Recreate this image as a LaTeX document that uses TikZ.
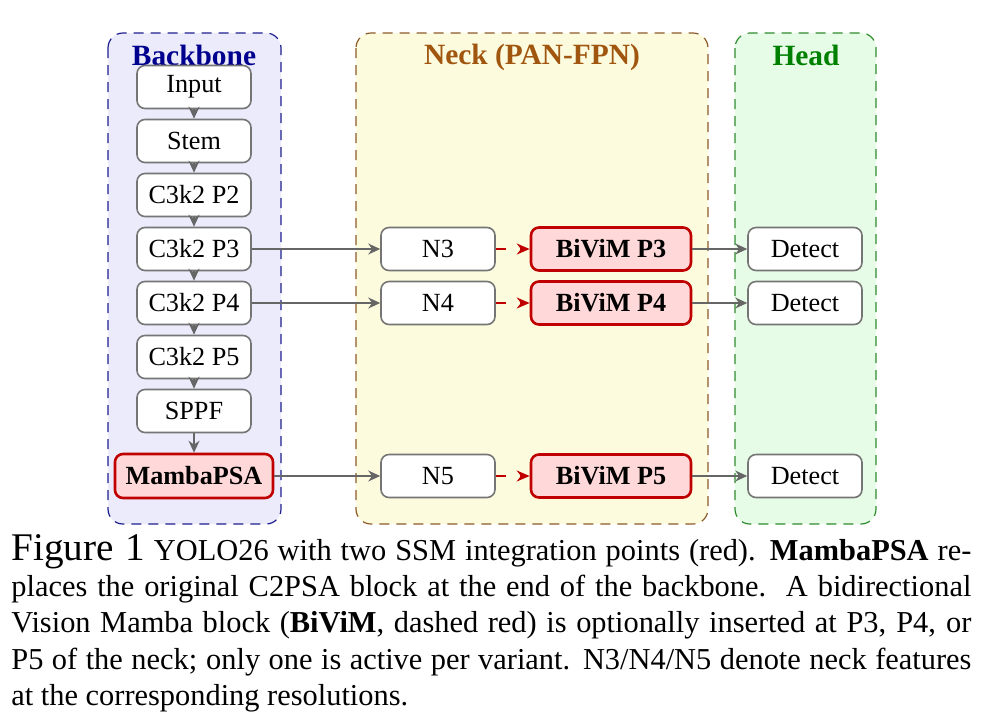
\documentclass[tikz,border=0pt]{standalone}
\usepackage{fontspec}
\setmainfont{Liberation Serif}
\usetikzlibrary{arrows.meta}
\definecolor{bbfill}{HTML}{EBEBFC}
\definecolor{bbdraw}{HTML}{1F1F8F}
\definecolor{bbtext}{HTML}{00008F}
\definecolor{nkfill}{HTML}{FCFBDE}
\definecolor{nkdraw}{HTML}{8C5A2A}
\definecolor{nktext}{HTML}{A0560F}
\definecolor{hdfill}{HTML}{E6FCE6}
\definecolor{hddraw}{HTML}{2E8B2E}
\definecolor{hdtext}{HTML}{008000}
\definecolor{ssmfill}{HTML}{FFD9D9}
\definecolor{ssmdraw}{HTML}{C00000}
\definecolor{gline}{HTML}{666666}
\begin{document}
\begin{tikzpicture}[x=0.5pt,y=-0.5pt,
 panel/.style={rounded corners=7.5pt, dash pattern=on 5pt off 3.5pt, line width=0.6pt},
 blk/.style={draw=gline!90, fill=white, rounded corners=4pt, line width=0.8pt, minimum width=57pt, minimum height=21.5pt, inner sep=0pt, font=\fontsize{13.1}{15}\selectfont},
 ssm/.style={blk, draw=ssmdraw, fill=ssmfill, line width=1.3pt, font=\fontsize{13.1}{15}\selectfont\bfseries},
 flow/.style={draw=gline, line width=0.75pt, -{Stealth[length=6pt,width=5.5pt]}},
 opt/.style={draw=ssmdraw, line width=0.9pt, dash pattern=on 5pt off 7pt, -{Stealth[length=6.5pt,width=5.5pt]}},
 title/.style={font=\fontsize{14.7}{16}\selectfont\bfseries, anchor=base, inner sep=0pt},
 capline/.style={anchor=base west, inner sep=0pt, font=\fontsize{15.2}{18}\selectfont}]
\useasboundingbox (0,0) rectangle (1000,725);
% panels
\draw[panel, fill=bbfill, draw=bbdraw] (108,33) rectangle (281,524);
\draw[panel, fill=nkfill, draw=nkdraw] (356,33) rectangle (708,524);
\draw[panel, fill=hdfill, draw=hddraw] (735,33) rectangle (876,524);
\node[title, text=bbtext] (tb) at (194,65) {Backbone};
\node[title, text=nktext] (tn) at (532,64) {Neck (PAN-FPN)};
\node[title, text=hdtext] (th) at (806,65) {Head};
% backbone
\node[blk] (in) at (194,87) {Input};
\node[blk] (stem) at (194,141) {Stem};
\node[blk] (p2) at (194,195) {C3k2 P2};
\node[blk] (p3) at (194,249) {C3k2 P3};
\node[blk] (p4) at (194,303) {C3k2 P4};
\node[blk] (p5) at (194,357) {C3k2 P5};
\node[blk] (sppf) at (194,411) {SPPF};
\node[ssm, minimum width=79pt, minimum height=22pt] (mpsa) at (194,476) {MambaPSA};
% neck
\node[blk] (n3) at (438,249) {N3};
\node[blk] (n4) at (438,303) {N4};
\node[blk] (n5) at (438,476) {N5};
\node[ssm, minimum width=80pt] (b3) at (611,249) {BiViM P3};
\node[ssm, minimum width=80pt] (b4) at (611,303) {BiViM P4};
\node[ssm, minimum width=80pt] (b5) at (611,476) {BiViM P5};
% head
\node[blk] (d3) at (805,249) {Detect};
\node[blk] (d4) at (805,303) {Detect};
\node[blk] (d5) at (805,476) {Detect};
% connectors
\draw[flow] (in) -- (stem);
\draw[flow] (stem) -- (p2);
\draw[flow] (p2) -- (p3);
\draw[flow] (p3) -- (p4);
\draw[flow] (p4) -- (p5);
\draw[flow] (p5) -- (sppf);
\draw[flow] (sppf) -- (mpsa);
\draw[flow] (p3) -- (n3);
\draw[flow] (p4) -- (n4);
\draw[flow] (mpsa) -- (n5);
\draw[opt] (n3) -- (b3);
\draw[opt] (n4) -- (b4);
\draw[opt] (n5) -- (b5);
\draw[flow] (b3) -- (d3);
\draw[flow] (b4) -- (d4);
\draw[flow] (b5) -- (d5);
% caption
\node[capline] (c1) at (11,560) {\makebox[480pt][s]{{\fontsize{19.6}{22}\selectfont Figure 1} YOLO26 with two SSM integration points (red). \textbf{MambaPSA} re-}};
\node[capline] (c2) at (11,596.5) {\makebox[480pt][s]{places the original C2PSA block at the end of the backbone.\ \ A bidirectional}};
\node[capline] (c3) at (11,632.5) {\makebox[480pt][s]{Vision Mamba block (\textbf{BiViM}, dashed red) is optionally inserted at P3, P4, or}};
\node[capline] (c4) at (11,669) {\makebox[480pt][s]{P5 of the neck; only one is active per variant. N3/N4/N5 denote neck features}};
\node[capline] (c5) at (11,705) {at the corresponding resolutions.};
\end{tikzpicture}
\end{document}
